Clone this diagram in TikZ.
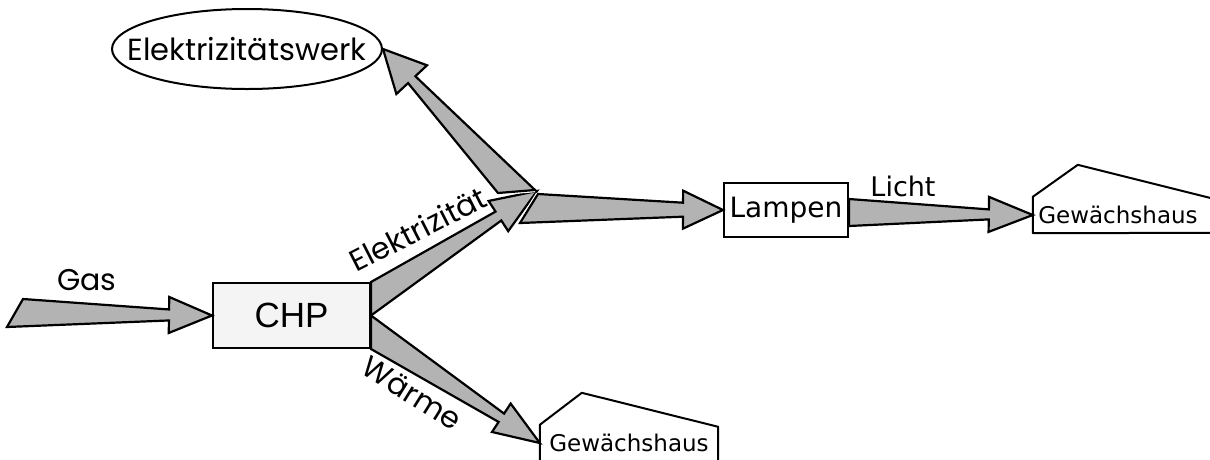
\documentclass[tikz,border=0pt]{standalone}
\usepackage{fontspec}
\setmainfont{DejaVu Sans}
\newfontfamily\geofont{Poppins}
\newfontfamily\arialfont{Liberation Sans}
\usetikzlibrary{calc,shapes.geometric}

\definecolor{flowgray}{HTML}{B3B3B3}
\definecolor{boxgray}{HTML}{F4F4F4}

\tikzset{
  flow/.style={fill=flowgray, draw=black, line width=2.2pt, line join=miter},
  gap/.style={draw=white, line width=4.5pt},
  procbox/.style={draw=black, line width=2pt, fill=white, inner sep=0pt},
  house/.style={draw=black, line width=2pt, line join=round},
  houselabel/.style={inner sep=0pt, minimum height=36pt, font=\fontsize{23}{25}\selectfont},
  flowlabel/.style={inner sep=0pt, font=\geofont\fontsize{30}{33}\selectfont},
}

% tapered flow arrow:
% #1 tail point (left side), #2 tail point (right side), #3 tip,
% #4 half shaft width at the head, #5 half head width, #6 head length
\newcommand\flowarrow[6]{%
  \coordinate (fa-m) at ($(#1)!0.5!(#2)$);
  \coordinate (fa-h) at ($(#3)!#6!(fa-m)$);
  \filldraw[flow] (#1) -- ($(fa-h)!#4!90:(#3)$) -- ($(fa-h)!#5!90:(#3)$)
    -- (#3) -- ($(fa-h)!#5!-90:(#3)$) -- ($(fa-h)!#4!-90:(#3)$) -- (#2) -- cycle;
}

\begin{document}
\begin{tikzpicture}[x=1pt, y=-1pt]
  \useasboundingbox (0,0) rectangle (1210,459);
  \clip (0,0) rectangle (1210,459);

  % nodes
  \node[procbox, fill=boxgray, minimum width=157pt, minimum height=65pt,
        font=\arialfont\fontsize{35}{38}\selectfont] (chp) at (291.5,315.5) {CHP};
  \node[procbox, minimum width=124pt, minimum height=54pt,
        font=\fontsize{28}{31}\selectfont] (lamp) at (786,210) {Lampen};
  % the ellipse keeps its own size: the text is set in a zero-width box
  \node[ellipse, draw=black, line width=2pt, inner sep=0pt,
        minimum width=270pt, minimum height=80pt,
        font=\geofont\fontsize{30.5}{33}\selectfont] (werk) at (247,49)
        {\makebox[0pt]{Elektrizitätswerk}};
  \node[houselabel, minimum width=170pt] (gh1) at (1118,215) {Gewächshaus};
  \node[houselabel, minimum width=178pt] (gh2) at (629,443) {Gewächshaus};

  % greenhouse outlines
  \draw[house] (gh1.south west) -- (gh1.north west) -- ++(45,-32) -- ++(140,35)
    -- ++(0,33) -- cycle;
  \draw[house] (gh2.south west) -- (gh2.north west) -- ++(42,-32)
    -- ($(gh2.north east)+(0,2)$) -- ($(gh2.south east)+(0,4)$)
    -- ($(gh2.south west)+(0,4)$) -- cycle;

  % junction of the electricity flow
  \coordinate (J) at (537,191);
  \coordinate (gasin1) at (23,299);
  \coordinate (gasin2) at (7,327);
  \coordinate (wt1) at ($(J)+(-39,2)$);
  \coordinate (wt2) at ($(J)+(-2,-1)$);
  \coordinate (lt1) at ($(J)+(1,3)$);
  \coordinate (lt2) at ($(J)+(-17,32)$);
  \coordinate (ct1) at ($(lamp.east)+(0,-11)$);
  \coordinate (ct2) at ($(lamp.east)+(0,16)$);

  % flows
  \flowarrow{gasin1}{gasin2}{chp.west}{5.5pt}{18pt}{43pt}
  \flowarrow{chp.east}{chp.south east}{gh2.west}{5pt}{17pt}{46pt}
  \flowarrow{chp.north east}{chp.east}{J}{5.3pt}{18pt}{46pt}

  \draw[gap] (wt1) -- (wt2);
  \draw[gap] (lt1) -- (lt2);
  \flowarrow{wt1}{wt2}{werk.east}{5pt}{21pt}{42pt}
  \flowarrow{lt1}{lt2}{lamp.west}{7pt}{19pt}{40pt}
  \flowarrow{ct1}{ct2}{gh1.west}{5pt}{17.5pt}{44pt}

  % flow labels
  \node[flowlabel] (lgas) at (87,280) {Gas};
  \node[flowlabel, rotate=27] (lel) at (418,229) {Elektrizität};
  \node[flowlabel, rotate=-32] (lwa) at (412,393) {Wärme};
  \node[inner sep=0pt, font=\fontsize{27}{29}\selectfont] (lli) at (903,186) {Licht};
\end{tikzpicture}
\end{document}
